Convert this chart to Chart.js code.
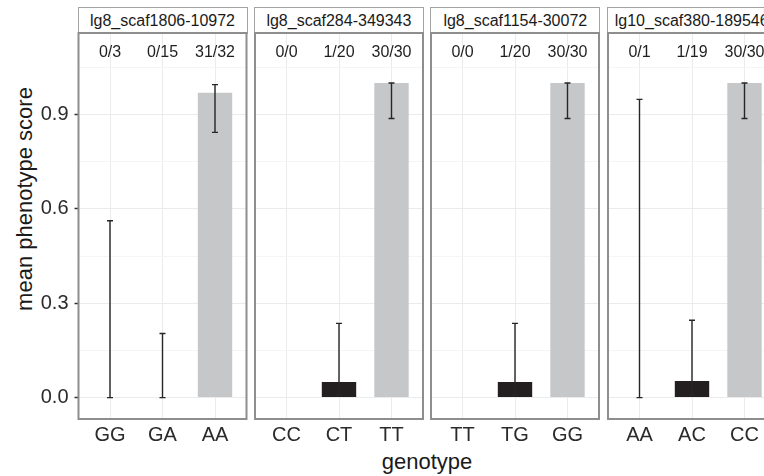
<!DOCTYPE html>
<html>
<head>
<meta charset="utf-8">
<script src="https://cdn.jsdelivr.net/npm/chart.js@4.4.0/dist/chart.umd.min.js"></script>
<style>
  body { margin: 0; width: 764px; height: 476px; overflow: hidden; background: #fff; position: relative;
         font-family: "Liberation Sans", Arial, sans-serif; color: #1a1a1a; }
  .panel { position: absolute; top: 28px; }
  .strip { position: absolute; top: 7px; height: 27px; box-sizing: border-box; border: 1px solid #a3a3a3;
           background: #fff; font-size: 16px; line-height: 26px; text-align: center; white-space: nowrap; overflow: hidden; }
  .title { position: absolute; white-space: nowrap; font-size: 22px; }
</style>
</head>
<body>
<div class="title" style="left:25px;top:199px;transform:translate(-50%,-50%) rotate(-90deg)">mean phenotype score</div>
<div class="title" style="left:427px;top:462px;transform:translate(-50%,-50%)">genotype</div>
<script>
// facets, categories and values
var panelNames = ['lg8_scaf1806-10972', 'lg8_scaf284-349343', 'lg8_scaf1154-30072', 'lg10_scaf380-189546'];
var genotypes = [['GG', 'GA', 'AA'], ['CC', 'CT', 'TT'], ['TT', 'TG', 'GG'], ['AA', 'AC', 'CC']];
var meanScore = [[0, 0, 0.969], [0, 0.05, 1], [0, 0.05, 1], [0, 0.053, 1]];
var ciLow = [[0, 0, 0.843], [null, 0.009, 0.887], [null, 0.009, 0.887], [0, 0.009, 0.887]];
var ciHigh = [[0.562, 0.204, 0.995], [null, 0.236, 1], [null, 0.236, 1], [0.948, 0.246, 1]];
var countLabels = [['0/3', '0/15', '31/32'], ['0/0', '1/20', '30/30'], ['0/0', '1/20', '30/30'], ['0/1', '1/19', '30/30']];
var yTicks = [0, 0.3, 0.6, 0.9];
var yMinorTicks = [0.15, 0.45, 0.75, 1.05];
var countLabelY = 1.1;

var barColors = ['#ffffff', '#231f20', '#c6c7c9'];
var fontFamily = '"Liberation Sans", Arial, sans-serif';

// layout of the facets (pixels)
var panelLeft = [78.5, 254.9, 431.3, 607.7];
var panelW = 168, panelH = 386, padTop = 5, canvasH = 448;

function isMinor(v) {
  return yMinorTicks.some(function (m) { return Math.abs(m - v) < 1e-9; });
}

// error bars, count labels and the panel frame
var facetPlugin = {
  id: 'facet',
  afterDatasetsDraw: function (chart, args, opts) {
    var p = opts.panel;
    var ctx = chart.ctx, a = chart.chartArea, x = chart.scales.x, y = chart.scales.y;
    ctx.save();
    ctx.strokeStyle = '#262626';
    ctx.lineWidth = 1.4;
    genotypes[p].forEach(function (g, i) {
      if (ciLow[p][i] == null) return;
      var px = x.getPixelForValue(i + 1);
      var y0 = y.getPixelForValue(ciLow[p][i]);
      var y1 = y.getPixelForValue(ciHigh[p][i]);
      ctx.beginPath();
      ctx.moveTo(px, y0); ctx.lineTo(px, y1);
      ctx.moveTo(px - 3, y0); ctx.lineTo(px + 3, y0);
      ctx.moveTo(px - 3, y1); ctx.lineTo(px + 3, y1);
      ctx.stroke();
    });
    ctx.fillStyle = '#1f1f1f';
    ctx.font = '16px ' + fontFamily;
    ctx.textAlign = 'center';
    ctx.textBaseline = 'middle';
    countLabels[p].forEach(function (t, i) {
      ctx.fillText(t, x.getPixelForValue(i + 1), y.getPixelForValue(countLabelY) + 1);
    });
    ctx.strokeStyle = '#8e8e8e';
    ctx.lineWidth = 2;
    ctx.strokeRect(a.left, a.top, a.width, a.height);
    ctx.restore();
  }
};

panelNames.forEach(function (name, p) {
  var strip = document.createElement('div');
  strip.className = 'strip';
  strip.style.left = (panelLeft[p] - 1) + 'px';
  strip.style.width = (panelW + 2) + 'px';
  strip.textContent = name;
  document.body.appendChild(strip);

  var first = p === 0;
  var left = first ? 0 : panelLeft[p] - 3;
  var padLeft = first ? 0 : 3;
  var width = first ? panelLeft[0] + panelW + 3 : panelW + 6;

  var canvas = document.createElement('canvas');
  canvas.className = 'panel';
  canvas.width = Math.ceil(width);
  canvas.height = canvasH;
  canvas.style.left = left + 'px';
  document.body.appendChild(canvas);
  var padRight = canvas.width - width + 3;

  new Chart(canvas.getContext('2d'), {
    type: 'bar',
    data: {
      datasets: [{
        data: meanScore[p].map(function (v, i) { return { x: i + 1, y: v }; }),
        backgroundColor: barColors,
        borderWidth: 0,
        barPercentage: 0.655,
        categoryPercentage: 1
      }]
    },
    options: {
      responsive: false,
      animation: false,
      layout: { padding: { left: padLeft, right: padRight, top: padTop, bottom: 0 } },
      plugins: {
        legend: { display: false },
        tooltip: { enabled: false },
        facet: { panel: p }
      },
      scales: {
        x: {
          type: 'linear',
          min: 0.4,
          max: 3.6,
          offset: false,
          afterBuildTicks: function (ax) { ax.ticks = [1, 2, 3].map(function (v) { return { value: v }; }); },
          afterFit: function (ax) {
            ax.height = canvasH - padTop - panelH;
            ax.paddingLeft = 0; ax.paddingRight = 0;
          },
          grid: { color: '#ebebeb', lineWidth: 1, drawTicks: false, offset: false },
          border: { display: false },
          ticks: {
            padding: 4,
            maxRotation: 0,
            autoSkip: false,
            color: '#2b2b2b',
            font: { family: fontFamily, size: 20 },
            callback: function (v) { return genotypes[p][v - 1]; }
          }
        },
        y: {
          min: -0.068,
          max: 1.159,
          afterBuildTicks: function (ax) {
            ax.ticks = yTicks.concat(yMinorTicks).sort(function (a, b) { return a - b; })
              .map(function (v) { return { value: v }; });
          },
          afterFit: function (ax) {
            ax.width = first ? panelLeft[0] : 0;
            ax.paddingTop = 0; ax.paddingBottom = 0;
          },
          grid: {
            color: function (c) { return c.tick && isMinor(c.tick.value) ? '#f5f5f5' : '#ebebeb'; },
            lineWidth: 1,
            drawTicks: first,
            tickLength: 4,
            tickWidth: 1.5,
            tickColor: function (c) { return c.tick && isMinor(c.tick.value) ? 'rgba(0,0,0,0)' : '#333333'; }
          },
          border: { display: false },
          ticks: {
            display: first,
            autoSkip: false,
            padding: 6,
            color: '#2b2b2b',
            font: { family: fontFamily, size: 20 },
            callback: function (v) { return isMinor(v) ? '' : v.toFixed(1); }
          }
        }
      }
    },
    plugins: [facetPlugin]
  });
});
</script>
</body>
</html>
